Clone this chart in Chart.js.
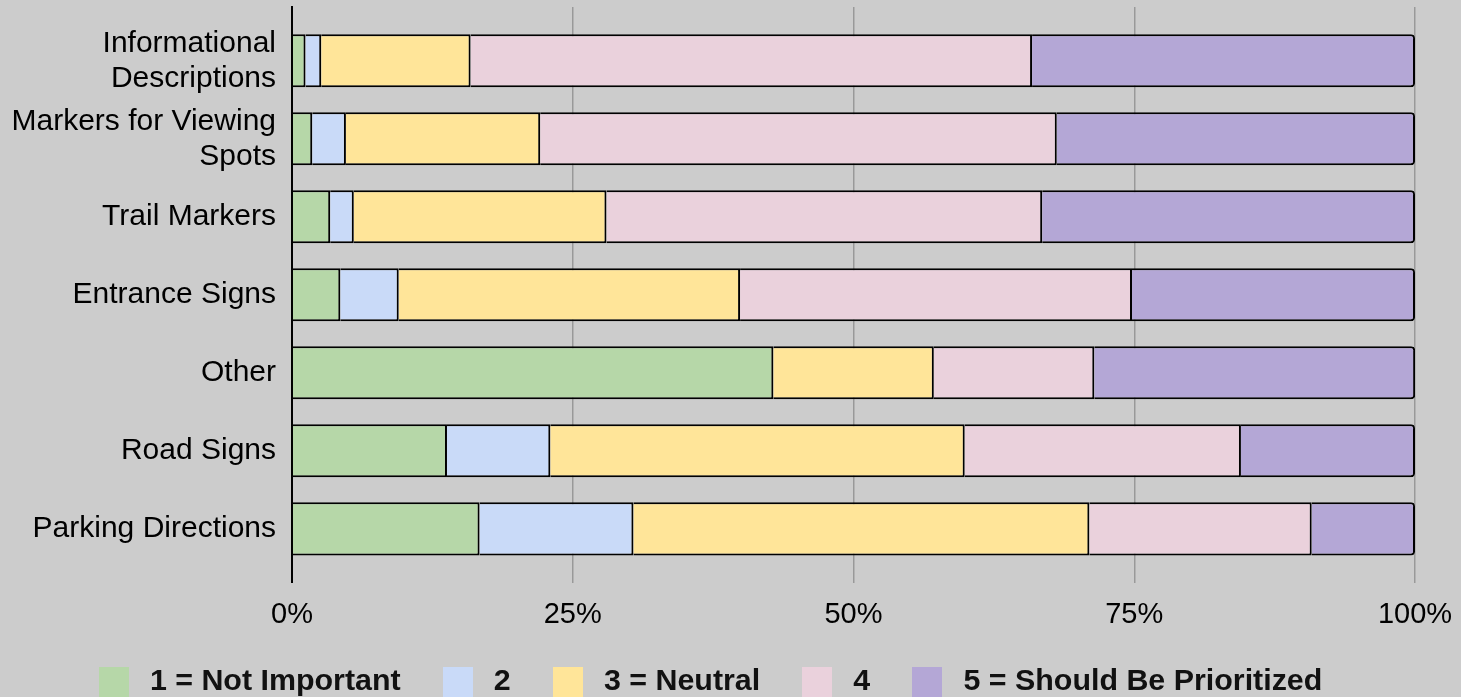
<!DOCTYPE html>
<html>
<head>
<meta charset="utf-8">
<script src="https://cdn.jsdelivr.net/npm/chart.js@4.4.1/dist/chart.umd.min.js"></script>
<style>
  html, body { margin: 0; padding: 0; background: #cccccc; overflow: hidden; }
  #wrap { position: relative; width: 1461px; height: 707px; }
</style>
</head>
<body>
<div id="wrap"><canvas id="chart"></canvas></div>
<script>
// categories, top to bottom
const categories = [
  ['Informational', 'Descriptions'],
  ['Markers for Viewing', 'Spots'],
  'Trail Markers',
  'Entrance Signs',
  'Other',
  'Road Signs',
  'Parking Directions'
];
const seriesNames = ['1 = Not Important', '2', '3 = Neutral', '4', '5 = Should Be Prioritized'];
const seriesColors = ['#b6d7a8', '#c9daf8', '#ffe599', '#ead1dc', '#b4a7d6'];

// share of answers, in percent
const notImportant = [1.2, 1.8, 3.4, 4.3, 42.86, 13.8, 16.7];
const rating2 = [1.4, 3.0, 2.1, 5.2, 0, 9.2, 13.7];
const neutral = [13.3, 17.3, 22.5, 30.4, 14.29, 36.9, 40.6];
const rating4 = [50.0, 46.0, 38.8, 34.9, 14.29, 24.6, 19.8];
const prioritized = [34.1, 31.9, 33.2, 25.2, 28.57, 15.5, 9.2];

const xTicks = [0, 25, 50, 75, 100];

Chart.defaults.font.family = "'Liberation Sans', Arial, sans-serif";
Chart.defaults.color = '#000';

const series = [notImportant, rating2, neutral, rating4, prioritized];
const datasets = series.map((values, s) => ({
  label: seriesNames[s],
  data: values.map((v, i) => ({ x: v, y: i })),
  backgroundColor: seriesColors[s],
  borderColor: '#000',
  borderWidth: 2,
  borderSkipped: 'start',
  borderRadius: s === series.length - 1 ? 4 : 0,
  categoryPercentage: 1,
  barPercentage: 0.68
}));

// plain 30px swatch for the legend, so the gap to the text can be wider
function swatch(color) {
  const c = document.createElement('canvas');
  c.width = 30;
  c.height = 30;
  const g = c.getContext('2d');
  g.fillStyle = color;
  g.fillRect(0, 0, 30, 30);
  return c;
}
const swatches = seriesColors.map(swatch);

new Chart(document.getElementById('chart'), {
  type: 'bar',
  data: { datasets },
  options: {
    indexAxis: 'y',
    responsive: true,
    maintainAspectRatio: false,
    animation: false,
    layout: { padding: { top: 7, left: 0, right: 46, bottom: 0 } },
    scales: {
      x: {
        stacked: true,
        min: 0,
        max: 100,
        afterBuildTicks: (scale) => { scale.ticks = xTicks.map(v => ({ value: v })); },
        afterFit: (scale) => {
          scale.height = 52.6;
          scale.paddingLeft = 0;
          scale.paddingRight = 0;
        },
        border: { display: false },
        grid: {
          color: (ctx) => (ctx.tick && ctx.tick.value === 0 ? '#000' : '#999'),
          lineWidth: (ctx) => (ctx.tick && ctx.tick.value === 0 ? 2 : 1.5),
          tickLength: 5
        },
        ticks: {
          color: '#000',
          padding: 15,
          font: { size: 29 },
          callback: (v) => v + '%'
        }
      },
      y: {
        type: 'linear',
        stacked: true,
        reverse: true,
        offset: false,
        bounds: 'data',
        min: -0.69,
        max: 6.63,
        z: 1,
        afterBuildTicks: (scale) => { scale.ticks = categories.map((c, i) => ({ value: i })); },
        afterFit: (scale) => {
          scale.width = 292;
          scale.paddingTop = 0;
          scale.paddingBottom = 0;
        },
        grid: { display: false, drawTicks: false },
        border: { display: true, color: '#000', width: 2 },
        ticks: {
          color: '#000',
          autoSkip: false,
          padding: 16,
          font: { size: 30, lineHeight: 1.167 },
          callback: (v) => categories[v]
        }
      }
    },
    plugins: {
      tooltip: { enabled: false },
      legend: {
        position: 'bottom',
        labels: {
          usePointStyle: true,
          pointStyleWidth: 42,
          boxHeight: 30,
          padding: 36,
          color: '#111',
          font: { size: 30.4, weight: 'bold' },
          generateLabels: (chart) =>
            Chart.defaults.plugins.legend.labels.generateLabels(chart)
              .map((item, i) => ({ ...item, pointStyle: swatches[i], lineWidth: 0, strokeStyle: 'rgba(0,0,0,0)' }))
        }
      }
    }
  }
});
</script>
</body>
</html>
